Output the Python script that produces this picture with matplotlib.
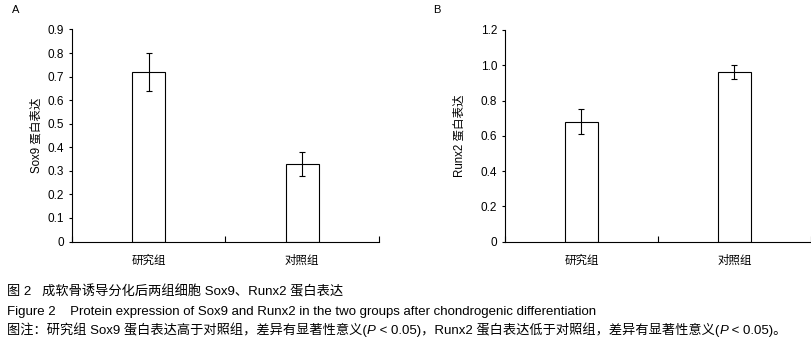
import numpy as np
import matplotlib
matplotlib.use("Agg")
import matplotlib.pyplot as plt

# 数据
groups = ["研究组", "对照组"]
sox9_mean = [0.72, 0.33]
sox9_err = [0.08, 0.05]
runx2_mean = [0.68, 0.96]
runx2_err = [0.07, 0.04]

sox9_ticks = [0, 0.1, 0.2, 0.3, 0.4, 0.5, 0.6, 0.7, 0.8, 0.9]
sox9_ticklabels = ["0", "0.1", "0.2", "0.3", "0.4", "0.5", "0.6", "0.7", "0.8", "0.9"]
runx2_ticks = [0, 0.2, 0.4, 0.6, 0.8, 1.0, 1.2]
runx2_ticklabels = ["0", "0.2", "0.4", "0.6", "0.8", "1.0", "1.2"]

caption_cn = "图 2   成软骨诱导分化后两组细胞 Sox9、Runx2 蛋白表达"
caption_en = "Figure 2    Protein expression of Sox9 and Runx2 in the two groups after chondrogenic differentiation"
# 图注分段, P 用斜体
caption_note = [
    ("图注：研究组 Sox9 蛋白表达高于对照组，差异有显著性意义(", "normal"),
    ("P", "italic"),
    (" < 0.05)，Runx2 蛋白表达低于对照组，差异有显著性意义(", "normal"),
    ("P", "italic"),
    (" < 0.05)。", "normal"),
]

plt.rcParams['font.family'] = ['Liberation Sans', 'Noto Sans CJK SC', 'DejaVu Sans']

W, H = 812, 347
fig = plt.figure(figsize=(W / 100, H / 100), dpi=100)


def px_axes(x0, y_top, x1, y_bot):
    return fig.add_axes([x0 / W, 1 - y_bot / H, (x1 - x0) / W, (y_bot - y_top) / H])


def draw_panel(ax, means, errs, ymax, ticks, ticklabels, ylabel, lpad):
    x = np.arange(len(means)) + 0.5
    ax.bar(x, means, width=0.215, color="white", edgecolor="black", linewidth=0.8)
    ax.errorbar(x, means, yerr=errs, fmt="none", ecolor="black",
                elinewidth=0.8, capsize=2.2, capthick=0.8)
    ax.set_xlim(0, len(means))
    ax.set_ylim(0, ymax)
    for s in ["top", "right"]:
        ax.spines[s].set_visible(False)
    for s in ["left", "bottom"]:
        ax.spines[s].set_linewidth(0.8)
    ax.set_xticks(np.arange(len(means) + 1))
    ax.set_xticklabels([])
    ax.tick_params(axis="x", which="major", direction="in", length=4, width=0.8)
    ax.set_xticks(x, minor=True)
    ax.set_xticklabels(groups, minor=True, fontsize=8.3)
    ax.tick_params(axis="x", which="minor", length=0, pad=9.5)
    ax.set_yticks(ticks)
    ax.set_yticklabels(ticklabels, fontsize=8.5)
    ax.tick_params(axis="y", direction="out", length=2.5, width=0.8, pad=3)
    ax.set_ylabel(ylabel, fontsize=8.3, labelpad=lpad)


axA = px_axes(72, 29.5, 379, 241.5)
draw_panel(axA, sox9_mean, sox9_err, 0.9, sox9_ticks, sox9_ticklabels, "Sox9 蛋白表达", 4)

axB = px_axes(505, 30, 811, 241.5)
draw_panel(axB, runx2_mean, runx2_err, 1.2, runx2_ticks, runx2_ticklabels, "Runx2 蛋白表达", 11)

fig.text(12 / W, 1 - 10 / H, "A", fontsize=8, va="center", ha="left")
fig.text(433 / W, 1 - 10 / H, "B", fontsize=8, va="center", ha="left")

cap_size = 9.5
fig.text(7 / W, 1 - 295 / H, caption_cn, fontsize=cap_size, va="baseline", ha="left")
fig.text(7 / W, 1 - 314.5 / H, caption_en, fontsize=cap_size, va="baseline", ha="left")

renderer = fig.canvas.get_renderer()
xpos = 7
for seg, style in caption_note:
    t = fig.text(xpos / W, 1 - 334 / H, seg, fontsize=cap_size, style=style,
                 va="baseline", ha="left")
    xpos += t.get_window_extent(renderer).width

fig.savefig("out.png", dpi=100)
